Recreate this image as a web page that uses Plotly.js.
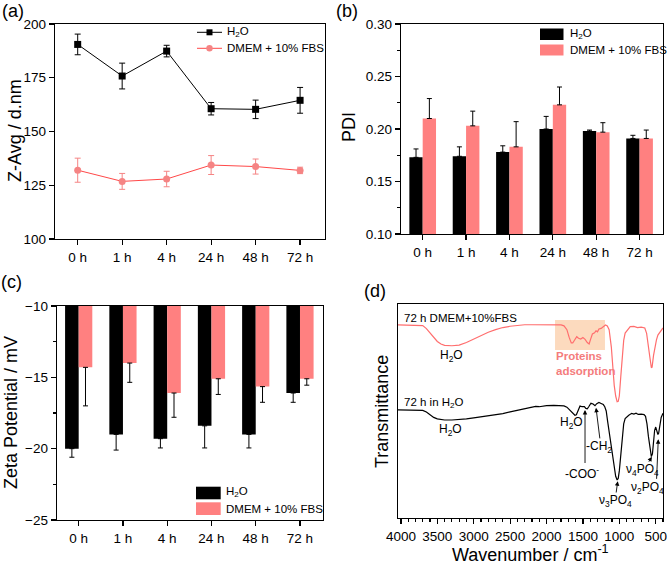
<!DOCTYPE html>
<html>
<head>
<meta charset="utf-8">
<script src="https://cdn.plot.ly/plotly-3.0.1.min.js"></script>
<style>
  html, body { margin: 0; padding: 0; background: #fff; }
  #chart { width: 667px; height: 565px; }
</style>
</head>
<body>
<div id="chart"></div>
<script>
// ---- Sampling times ----
const times = ['0 h', '1 h', '4 h', '24 h', '48 h', '72 h'];

// ---- (a) Z-average size, d.nm ----
const zavgH2O     = [190.5, 175.8, 187.4, 160.6, 160.3, 164.5];
const zavgH2OErr  = [4.8, 6.0, 2.7, 2.9, 4.3, 6.0];
const zavgDMEM    = [132.0, 126.8, 127.9, 134.4, 133.7, 131.9];
const zavgDMEMErr = [5.6, 3.7, 3.6, 4.4, 3.5, 1.5];

// ---- (b) polydispersity index ----
const pdiH2O     = [0.173, 0.174, 0.178, 0.200, 0.198, 0.191];
const pdiH2OErr  = [0.008, 0.009, 0.006, 0.012, 0.001, 0.003];
const pdiDMEM    = [0.210, 0.203, 0.183, 0.223, 0.197, 0.191];
const pdiDMEMErr = [0.019, 0.014, 0.024, 0.017, 0.009, 0.008];

// ---- (c) zeta potential, mV ----
const zetaH2O     = [-20.0, -19.0, -19.3, -18.4, -19.0, -16.1];
const zetaH2OErr  = [0.6, 1.1, 0.65, 1.55, 0.95, 0.65];
const zetaDMEM    = [-14.3, -14.0, -16.1, -15.1, -15.65, -15.1];
const zetaDMEMErr = [2.7, 1.35, 1.7, 1.1, 1.1, 0.45];

// ---- (d) FTIR spectra (wavenumber, cm-1 / transmittance, a.u.) ----
const wnDMEM = [4040, 3800, 3700, 3650, 3600, 3550, 3500, 3450, 3400, 3300, 3200, 3100, 3000, 2900, 2800,
  2700, 2600, 2500, 2400, 2300, 2200, 2100, 2000, 1900, 1800, 1760, 1720, 1690, 1660, 1640, 1610, 1585,
  1560, 1530, 1500, 1470, 1440, 1415, 1395, 1370, 1340, 1320, 1300, 1280, 1250, 1220, 1190, 1165, 1140,
  1110, 1090, 1070, 1050, 1030, 1015, 1000, 980, 960, 940, 920, 880, 850, 800, 750, 700, 650, 625, 600,
  580, 560, 550, 530, 510, 490, 470, 440, 400];
const tDMEM = [90.2, 90.2, 89.9, 88.5, 86.5, 84.3, 82.5, 81.3, 80.7, 80.5, 80.8, 82.0, 83.6, 85.2, 86.8,
  88.0, 89.0, 89.6, 90.0, 90.3, 90.3, 90.2, 90.4, 90.3, 90.2, 89.8, 88.0, 84.5, 81.8, 81.8, 83.5, 84.7,
  84.0, 83.6, 84.3, 83.5, 82.0, 81.3, 83.5, 86.0, 86.5, 87.5, 87.0, 88.3, 88.6, 89.5, 90.2, 89.7, 88.0,
  80.0, 70.0, 62.0, 57.0, 54.3, 54.5, 57.0, 66.0, 76.0, 83.0, 86.4, 88.0, 89.4, 89.5, 89.0, 89.2, 88.8, 86.3, 81.0,
  75.0, 70.2, 70.5, 76.0, 80.0, 83.2, 85.5, 87.0, 88.8];

const wnH2O = [4040, 3750, 3700, 3650, 3600, 3550, 3500, 3450, 3400, 3300, 3200, 3100, 3000, 2900, 2800,
  2700, 2600, 2500, 2400, 2300, 2200, 2150, 2100, 2050, 2000, 1900, 1800, 1760, 1720, 1680, 1640, 1610,
  1590, 1560, 1540, 1510, 1480, 1460, 1440, 1420, 1390, 1360, 1334, 1310, 1280, 1250, 1220, 1200, 1180,
  1160, 1140, 1110, 1080, 1050, 1030, 1015, 1000, 980, 960, 940, 920, 900, 870, 830, 800, 770, 740, 700,
  660, 640, 620, 600, 580, 560, 545, 530, 515, 500, 485, 470, 460, 445, 425, 400];
const tH2O = [50.5, 50.5, 50.3, 49.5, 48.3, 47.0, 46.3, 46.0, 45.8, 45.8, 46.0, 46.3, 46.8, 47.3, 47.8,
  48.2, 48.8, 49.6, 50.4, 51.2, 52.0, 52.2, 52.0, 52.3, 52.5, 52.6, 52.6, 52.4, 51.8, 50.5, 49.0, 48.0,
  48.2, 50.5, 52.3, 52.0, 52.0, 51.2, 51.0, 52.0, 53.6, 53.3, 52.5, 53.4, 54.0, 53.5, 53.0, 52.0, 50.0,
  45.0, 40.0, 33.0, 25.0, 19.5, 17.8, 18.5, 22.0, 30.0, 38.0, 44.0, 46.5, 47.3, 48.0, 48.9, 48.6, 49.0, 48.4, 48.5,
  48.3, 47.5, 44.0, 38.0, 32.0, 28.7, 30.0, 36.0, 41.0, 42.5, 41.0, 39.0, 39.6, 43.0, 47.0, 48.9];

// ---- styling ----
const FONT = 'Liberation Sans, Arial, sans-serif';
const RED_LINE = '#ff4848';
const RED_MARK = '#f58484';
const SALMON = '#ff8080';
const W = 667, H = 565;
const px = v => v / W;          // pixel -> paper x
const py = v => 1 - v / H;      // pixel -> paper y

const traces = [
  // (a)
  { x: times, y: zavgH2O, type: 'scatter', mode: 'lines+markers', xaxis: 'x', yaxis: 'y',
    line: { color: '#000', width: 1 }, marker: { symbol: 'square', size: 7, color: '#000' },
    error_y: { type: 'data', array: zavgH2OErr, color: '#000', thickness: 1, width: 3 } },
  { x: times, y: zavgDMEM, type: 'scatter', mode: 'lines+markers', xaxis: 'x', yaxis: 'y',
    line: { color: RED_LINE, width: 1 }, marker: { symbol: 'circle', size: 7, color: RED_MARK },
    error_y: { type: 'data', array: zavgDMEMErr, color: RED_MARK, thickness: 1, width: 3 } },
  // (b)
  { x: times, y: pdiH2O, type: 'bar', xaxis: 'x2', yaxis: 'y2', marker: { color: '#000' },
    error_y: { type: 'data', symmetric: false, array: pdiH2OErr, arrayminus: pdiH2OErr.map(() => 0),
      color: '#000', thickness: 1, width: 2.5 } },
  { x: times, y: pdiDMEM, type: 'bar', xaxis: 'x2', yaxis: 'y2', marker: { color: SALMON },
    error_y: { type: 'data', symmetric: false, array: pdiDMEMErr, arrayminus: pdiDMEMErr.map(() => 0),
      color: '#000', thickness: 1, width: 2.5 } },
  // (c)
  { x: times, y: zetaH2O, type: 'bar', xaxis: 'x3', yaxis: 'y3', marker: { color: '#000' },
    error_y: { type: 'data', symmetric: false, array: zetaH2OErr.map(() => 0), arrayminus: zetaH2OErr,
      color: '#000', thickness: 1, width: 2.5 } },
  { x: times, y: zetaDMEM, type: 'bar', xaxis: 'x3', yaxis: 'y3', marker: { color: SALMON },
    error_y: { type: 'data', symmetric: false, array: zetaDMEMErr.map(() => 0), arrayminus: zetaDMEMErr,
      color: '#000', thickness: 1, width: 2.5 } },
  // (d)
  { x: wnDMEM, y: tDMEM, type: 'scatter', mode: 'lines', xaxis: 'x4', yaxis: 'y4',
    line: { color: '#ff6e6e', width: 1.2 } },
  { x: wnH2O, y: tH2O, type: 'scatter', mode: 'lines', xaxis: 'x4', yaxis: 'y4',
    line: { color: '#000', width: 1.2 } }
];

const frame = { showline: true, mirror: true, linecolor: '#000', linewidth: 1.3,
  showgrid: false, zeroline: false, ticks: 'outside', ticklen: 5, tickwidth: 1.2, tickcolor: '#000',
  tickfont: { family: FONT, size: 13.5, color: '#000' } };

const layout = {
  width: W, height: H,
  margin: { l: 0, r: 0, t: 0, b: 0 },
  paper_bgcolor: '#fff', plot_bgcolor: '#fff',
  showlegend: false,
  barmode: 'group', bargap: 0.385, bargroupgap: 0,
  font: { family: FONT, color: '#000' },
  xaxis:  Object.assign({}, frame, { domain: [px(55), px(325)], anchor: 'y', type: 'category',
    categoryorder: 'array', categoryarray: times, range: [-0.51, 5.56] }),
  yaxis:  Object.assign({}, frame, { domain: [py(239), py(24)], anchor: 'x', range: [100, 200], dtick: 25 }),
  xaxis2: Object.assign({}, frame, { domain: [px(401), px(663)], anchor: 'y2', type: 'category',
    categoryorder: 'array', categoryarray: times, range: [-0.5, 5.54] }),
  yaxis2: Object.assign({}, frame, { domain: [py(234), py(24)], anchor: 'x2', range: [0.1, 0.3],
    dtick: 0.05, tickformat: '.2f', minor: { ticks: 'outside', ticklen: 3, dtick: 0.025, tickcolor: '#000' } }),
  xaxis3: Object.assign({}, frame, { domain: [px(57), px(323)], anchor: 'y3', type: 'category',
    categoryorder: 'array', categoryarray: times, range: [-0.49, 5.52] }),
  yaxis3: Object.assign({}, frame, { domain: [py(520), py(306)], anchor: 'x3', range: [-25, -10],
    dtick: 5, minor: { ticks: 'outside', ticklen: 3, dtick: 2.5, tickcolor: '#000' } }),
  xaxis4: Object.assign({}, frame, { domain: [px(398), px(663)], anchor: 'y4', range: [4040, 400],
    tick0: 0, dtick: 500, minor: { ticks: 'outside', ticklen: 3, dtick: 100, tickcolor: '#000' } }),
  yaxis4: Object.assign({}, frame, { domain: [py(518), py(304)], anchor: 'x4', range: [0, 100],
    ticks: '', showticklabels: false }),
  shapes: [],
  annotations: []
};

const A = layout.annotations, S = layout.shapes;
function ptext(text, x, y, size, opts) {
  A.push(Object.assign({ text: text, xref: 'paper', yref: 'paper', x: px(x), y: py(y),
    showarrow: false, xanchor: 'center', yanchor: 'middle',
    font: { family: FONT, size: size, color: '#000' } }, opts || {}));
}
function prect(x0, y0, x1, y1, color) {
  S.push({ type: 'rect', xref: 'paper', yref: 'paper', x0: px(x0), x1: px(x1), y0: py(y1), y1: py(y0),
    fillcolor: color, line: { width: 0 } });
}

// panel letters
ptext('(a)', 13, 11, 18);
ptext('(b)', 347, 11, 18);
ptext('(c)', 12, 282, 18);
ptext('(d)', 375, 291, 18);

// axis titles
ptext('Z-Avg / d.nm', 15, 131, 18, { textangle: -90 });
ptext('PDI', 349, 127, 18, { textangle: -90 });
ptext('Zeta Potential / mV', 11, 413, 18, { textangle: -90 });
ptext('Transmittance', 382, 412, 18, { textangle: -90 });
ptext('Wavenumber / cm<sup>-1</sup>', 530, 553, 18);

// (a) legend
S.push({ type: 'line', xref: 'paper', yref: 'paper', x0: px(197), x1: px(222), y0: py(32.3), y1: py(32.3),
  line: { color: '#000', width: 1 } });
prect(206.5, 29.3, 212.5, 35.3, '#000');
S.push({ type: 'line', xref: 'paper', yref: 'paper', x0: px(197), x1: px(222), y0: py(48.3), y1: py(48.3),
  line: { color: RED_LINE, width: 1 } });
S.push({ type: 'circle', xref: 'paper', yref: 'paper', x0: px(206.3), x1: px(212.7), y0: py(51.5), y1: py(45.1),
  fillcolor: RED_MARK, line: { width: 0 } });
ptext('H<sub>2</sub>O', 225, 32.3, 11.5, { xanchor: 'left' });
ptext('DMEM + 10% FBS', 225, 48.3, 11.5, { xanchor: 'left' });

// (b) legend
prect(540, 28.5, 563.5, 40, '#000');
prect(540, 44.5, 563.5, 55.5, SALMON);
ptext('H<sub>2</sub>O', 567.5, 34.3, 11.5, { xanchor: 'left' });
ptext('DMEM + 10% FBS', 567.5, 50, 11.5, { xanchor: 'left' });

// (c) legend
prect(196, 486.7, 220.7, 499.3, '#000');
prect(196, 502.3, 220.7, 515, SALMON);
ptext('H<sub>2</sub>O', 224, 492.3, 11.5, { xanchor: 'left' });
ptext('DMEM + 10% FBS', 224, 509.3, 11.5, { xanchor: 'left' });

// (d) protein adsorption band
S.push({ type: 'rect', xref: 'x4', yref: 'y4', x0: 1883, x1: 1197, y0: 78.5, y1: 92.5,
  fillcolor: '#fbd3b3', opacity: 0.85, line: { width: 0 }, layer: 'below' });

function dtext(text, x, y, size, opts) {
  A.push(Object.assign({ text: text, xref: 'x4', yref: 'y4', x: x, y: y, showarrow: false,
    xanchor: 'center', yanchor: 'middle', font: { family: FONT, size: size, color: '#000' } }, opts || {}));
}
function darrow(x0, y0, x1, y1) {
  A.push({ text: '', xref: 'x4', yref: 'y4', axref: 'x4', ayref: 'y4', ax: x0, ay: y0, x: x1, y: y1,
    showarrow: true, arrowhead: 2, arrowsize: 1, arrowwidth: 0.9, arrowcolor: '#000', standoff: 0 });
}

dtext('72 h DMEM+10%FBS', 3989, 93.3, 11.5, { xanchor: 'left' });
dtext('H<sub>2</sub>O', 3302, 75.7, 12);
dtext('<b>Proteins</b><br><b>adsorption</b>', 1893, 72.3, 11.5,
  { xanchor: 'left', align: 'left', font: { family: FONT, size: 11.5, color: '#f47c7c' } });
dtext('72 h in H<sub>2</sub>O', 3989, 53.6, 11.5, { xanchor: 'left' });
dtext('H<sub>2</sub>O', 3315, 41.1, 12);
dtext('H<sub>2</sub>O', 1654, 44.3, 12);
dtext('-CH<sub>2</sub>', 1279, 33.4, 12);
dtext('-COO<sup>-</sup>', 1517, 21.0, 12);
dtext('\u03bd<sub>3</sub>PO<sub>4</sub>', 1046, 7.9, 12);
dtext('\u03bd<sub>4</sub>PO<sub>4</sub>', 685, 22.4, 12);
dtext('\u03bd<sub>2</sub>PO<sub>4</sub>', 615, 14.0, 12);

darrow(1471, 25.0, 1471, 50.5);
darrow(1265, 36.5, 1320, 51.5);
darrow(1046, 11.2, 1022, 17.2);
darrow(606, 25.6, 553, 28.6);
darrow(489, 17.6, 465, 36.8);

Plotly.newPlot('chart', traces, layout, { staticPlot: true, displayModeBar: false });
</script>
</body>
</html>
